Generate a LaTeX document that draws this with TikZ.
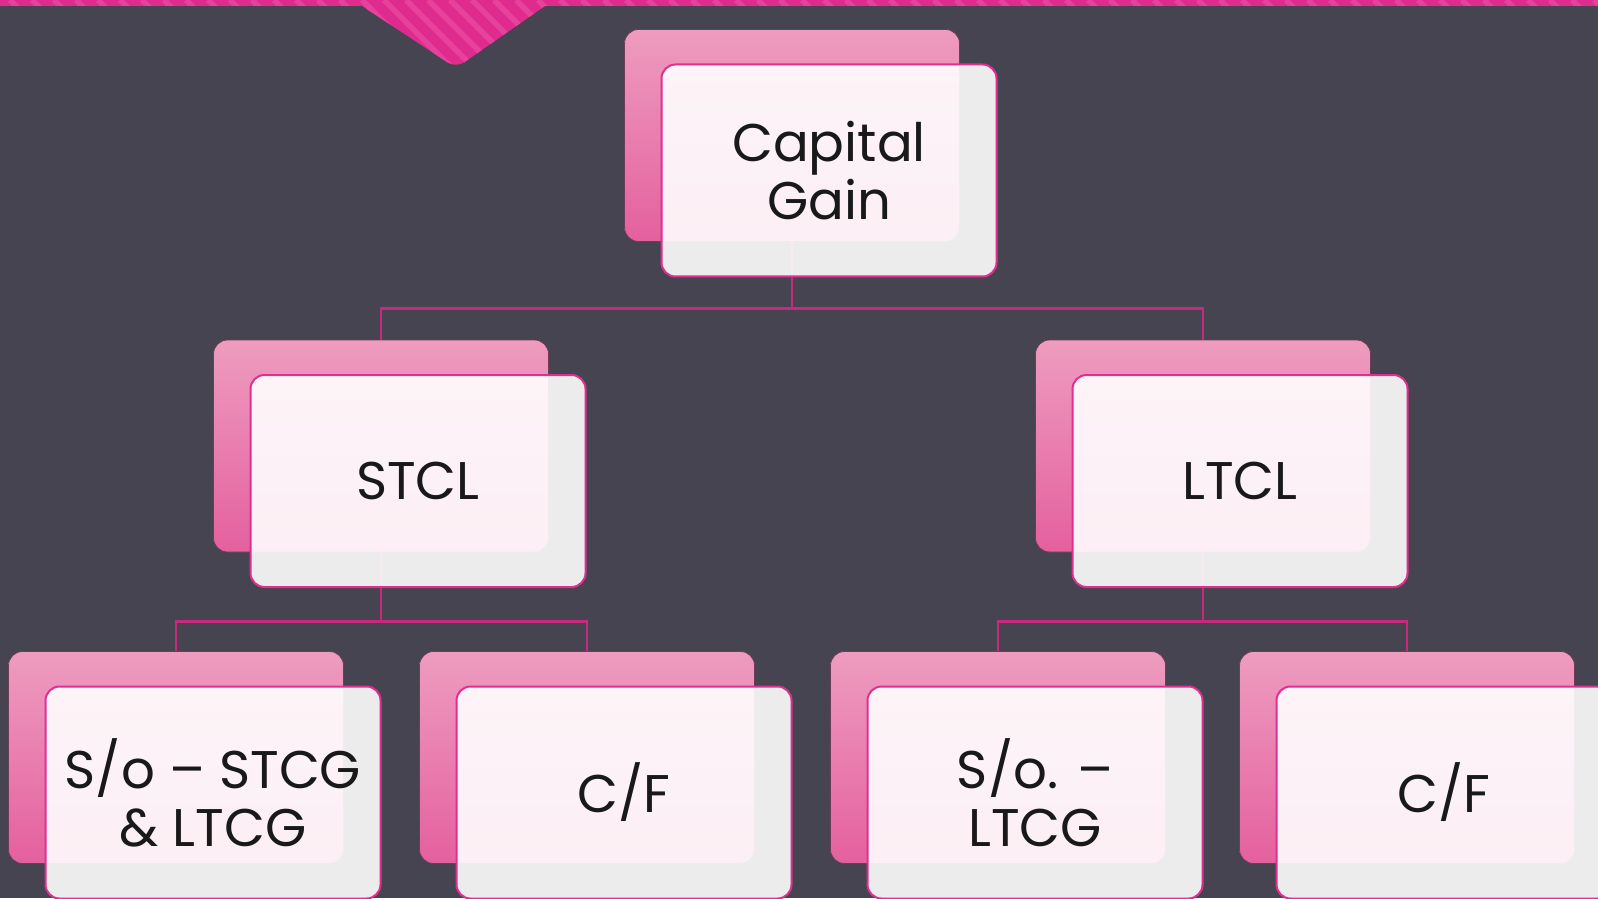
\documentclass[tikz,border=0pt]{standalone}
\usepackage{fontspec}
\setmainfont{Poppins}
\definecolor{slate}{RGB}{69,68,80}
\definecolor{ribbon}{RGB}{224,43,142}
\definecolor{ribbonlt}{RGB}{230,66,155}
\definecolor{backtop}{RGB}{238,156,192}
\definecolor{backbot}{RGB}{228,96,158}
\definecolor{backline}{RGB}{110,60,88}
\definecolor{frontline}{RGB}{224,48,143}
\definecolor{linkcol}{RGB}{200,40,125}
\begin{document}
\begin{tikzpicture}[x=0.5pt,y=-0.5pt,
    back/.style={rectangle,rounded corners=7pt,draw=backline,line width=0.4pt,
      top color=backtop,bottom color=backbot,minimum width=167.5pt,minimum height=106pt,inner sep=0pt},
    front/.style={rectangle,rounded corners=7pt,draw=frontline,line width=1pt,
      fill=white,fill opacity=0.9,text opacity=1,minimum width=167.5pt,minimum height=106pt,
      inner sep=0pt,align=center,font=\fontsize{26.5}{29}\selectfont,text=black!90},
    link/.style={draw=linkcol,line width=1.4pt}]
                \useasboundingbox (0,0) rectangle (1598,898);
                \clip (0,0) rectangle (1598,898);
                \fill[slate] (0,0) rectangle (1598,898);

                % ribbon along the top edge
                \begin{scope}
                    \clip (0,0) -- (1598,0) -- (1598,6) -- (545,6) [rounded corners=5pt] -- (456,68) [sharp corners] -- (362,6) -- (0,6) -- cycle;
                    \fill[ribbon] (0,0) rectangle (1598,70);
                    \foreach \i in {-100,-78,...,1700}
                        \draw[ribbonlt,line width=2.8pt] (\i,0) -- ++(80,80);
                \end{scope}

                % back cards
                \node[back] (cg) at (792,135.5) {};
                \node[back] (stcl) at (381,446) {};
                \node[back] (ltcl) at (1203,446) {};
                \node[back] (so1) at (176,757.5) {};
                \node[back] (cf1) at (587,757.5) {};
                \node[back] (so2) at (998,757.5) {};
                \node[back] (cf2) at (1407,757.5) {};

                \draw[link] (cg.south) -- ++(0,67) -| (stcl.north);
                \draw[link] (cg.south) -- ++(0,67) -| (ltcl.north);

                \draw[link] (stcl.south) -- ++(0,69) -| (so1.north);
                \draw[link] (stcl.south) -- ++(0,69) -| (cf1.north);

                \draw[link] (ltcl.south) -- ++(0,69) -| (so2.north);
                \draw[link] (ltcl.south) -- ++(0,69) -| (cf2.north);

                % front cards with the labels
                \node[front] (cgf) at (829,170.5) {Capital\\Gain};
                \node[front] (stclf) at (418,481) {STCL};
                \node[front] (ltclf) at (1240,481) {LTCL};
                \node[front] (so1f) at (213,792.5) {S/o – STCG\\\& LTCG};
                \node[front] (cf1f) at (624,792.5) {C/F};
                \node[front] (so2f) at (1035,792.5) {S/o. –\\LTCG};
                \node[front] (cf2f) at (1444,792.5) {C/F};
            \end{tikzpicture}
\end{document}
